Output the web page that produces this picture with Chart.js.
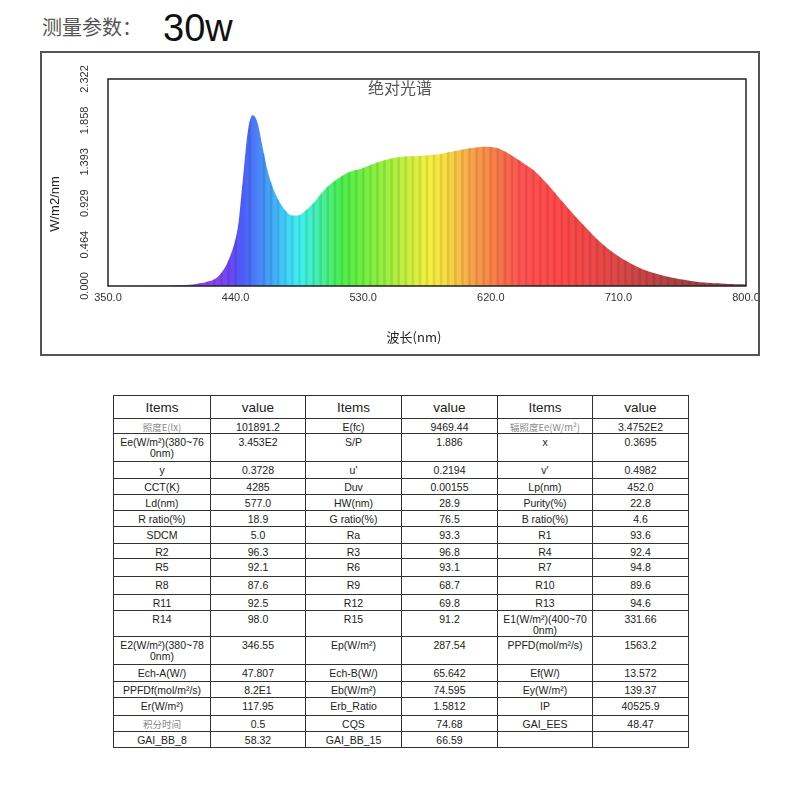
<!DOCTYPE html>
<html>
<head>
<meta charset="utf-8">
<script src="https://cdn.jsdelivr.net/npm/chart.js@4.4.0/dist/chart.umd.min.js"></script>
<style>
body{margin:0;background:#fff;width:800px;height:800px;position:relative;overflow:hidden;font-family:"Liberation Sans",Arial,sans-serif}
#lbl{position:absolute;left:42px;top:17px;font:20px/20px "Noto Sans CJK SC";color:#555}
#watt{position:absolute;left:163px;top:9px;font:38px/38px "Liberation Sans",Arial,sans-serif;color:#111}
#frame{position:absolute;left:40px;top:51px;width:720px;height:305px;box-sizing:border-box;border:2px solid #555}
#frame canvas{display:block}
table{position:absolute;left:113px;top:395px;border-collapse:collapse;table-layout:fixed;width:575px;font-size:10.5px;color:#222}
td{border:1px solid #333;padding:3px 1px 0;text-align:center;vertical-align:top;line-height:11px;white-space:pre-line;overflow:hidden}
tr.hd td{font-size:13.5px;vertical-align:middle;padding:0}
td.cn{font-family:"Noto Sans CJK SC";color:#888;font-size:9.5px}
</style>
</head>
<body>
<div id="lbl">测量参数：</div>
<div id="watt">30w</div>
<div id="frame"><canvas id="chart" width="716" height="301"></canvas></div>
<table id="tbl"></table>
<script>
// spectrum (nm, W/m2/nm)
const wavelengths = [350,355,360,365,370,375,380,385,390,395,400,405,410,415,420,425,430,435,
  440,442,444,446,448,450,452,454,456,458,460,462,465,470,475,480,485,490,495,500,505,510,515,
  520,525,530,535,540,545,550,555,560,565,570,575,580,585,590,595,600,605,610,615,620,625,630,
  635,640,645,650,655,660,665,670,675,680,685,690,695,700,705,710,715,720,725,730,735,740,745,
  750,755,760,765,770,775,780,785,790,795,800]
const irradiance = [0.000,0.000,0.000,0.000,0.001,0.001,0.002,0.003,0.004,0.006,0.008,0.012,0.018,0.030,0.048,0.075,0.150,0.290,
  0.530,0.700,1.010,1.340,1.660,1.850,1.915,1.890,1.800,1.640,1.480,1.330,1.160,0.970,0.850,0.790,0.795,0.855,0.930,1.030,1.115,1.180,1.235,
  1.275,1.300,1.325,1.355,1.385,1.410,1.430,1.445,1.452,1.455,1.458,1.465,1.472,1.482,1.500,1.515,1.530,1.545,1.555,1.562,1.560,1.545,1.510,
  1.462,1.410,1.355,1.300,1.225,1.140,1.050,0.955,0.865,0.775,0.690,0.605,0.525,0.455,0.390,0.335,0.285,0.240,0.203,0.172,0.145,0.122,0.103,
  0.087,0.072,0.060,0.048,0.040,0.035,0.030,0.026,0.023,0.020,0.018]

const xTicks = [350, 440, 530, 620, 710, 800]
const yTicks = [0.000, 0.464, 0.929, 1.393, 1.858, 2.322]

// colour of the fill along the wavelength axis
const specStops = [[350,'#a890e8'],[400,'#9444e8'],[425,'#8a42f0'],[437,'#6a48f8'],[445,'#4c5cf8'],
  [455,'#4a80f8'],[465,'#42a8f8'],[475,'#40d0f8'],[485,'#40f0f0'],[495,'#40f0c0'],[505,'#48f080'],
  [515,'#4cf04c'],[530,'#70f040'],[550,'#a8f040'],[565,'#d4f040'],[577,'#f4f040'],[588,'#f8dc44'],
  [598,'#f8c048'],[608,'#f8a048'],[618,'#f88a48'],[628,'#f87048'],[642,'#ff5252'],[670,'#ff4848'],
  [700,'#e84848'],[730,'#c44444'],[760,'#a44040'],[800,'#904040']]

const tableRows = [
  ['Items','value','Items','value','Items','value'],
  ['照度E(lx)','101891.2','E(fc)','9469.44','辐照度Ee(W/m²)','3.4752E2'],
  ['Ee(W/m²)(380~76\n0nm)','3.453E2','S/P','1.886','x','0.3695'],
  ['y','0.3728',"u'",'0.2194',"v'",'0.4982'],
  ['CCT(K)','4285','Duv','0.00155','Lp(nm)','452.0'],
  ['Ld(nm)','577.0','HW(nm)','28.9','Purity(%)','22.8'],
  ['R ratio(%)','18.9','G ratio(%)','76.5','B ratio(%)','4.6'],
  ['SDCM','5.0','Ra','93.3','R1','93.6'],
  ['R2','96.3','R3','96.8','R4','92.4'],
  ['R5','92.1','R6','93.1','R7','94.8'],
  ['R8','87.6','R9','68.7','R10','89.6'],
  ['R11','92.5','R12','69.8','R13','94.6'],
  ['R14','98.0','R15','91.2','E1(W/m²)(400~70\n0nm)','331.66'],
  ['E2(W/m²)(380~78\n0nm)','346.55','Ep(W/m²)','287.54','PPFD(mol/m²/s)','1563.2'],
  ['Ech-A(W/)','47.807','Ech-B(W/)','65.642','Ef(W/)','13.572'],
  ['PPFDf(mol/m²/s)','8.2E1','Eb(W/m²)','74.595','Ey(W/m²)','139.37'],
  ['Er(W/m²)','117.95','Erb_Ratio','1.5812','IP','40525.9'],
  ['积分时间','0.5','CQS','74.68','GAI_EES','48.47'],
  ['GAI_BB_8','58.32','GAI_BB_15','66.59','','']
]
const rowHeights = [23,14,28,17,16,16,16,17,15,18,18,16,26,28,17,16,18,16,16]
const colWidths = [97,95,96,96,95,96]

// build table
let tbl = document.getElementById('tbl')
let cg = document.createElement('colgroup')
colWidths.forEach(w => {
    let c = document.createElement('col')
    c.style.width = w + 'px'
    cg.appendChild(c)
})
tbl.appendChild(cg)
tableRows.forEach((row, i) => {
    let tr = document.createElement('tr')
    if (i === 0) tr.className = 'hd'
    tr.style.height = rowHeights[i] + 'px'
    row.forEach(txt => {
        let td = document.createElement('td')
        td.textContent = txt
        if (/[\u4e00-\u9fff]/.test(txt)) td.className = 'cn'
        tr.appendChild(td)
    })
    tbl.appendChild(tr)
})

// frame, tick labels and titles
const decor = {
    id: 'decor',
    afterDraw(chart) {
        const {ctx, chartArea: a, scales: {x, y}} = chart
        ctx.save()
        ctx.strokeStyle = '#222'
        ctx.lineWidth = 1.5
        ctx.strokeRect(a.left, a.top, a.right - a.left, a.bottom - a.top)

        ctx.fillStyle = '#333'
        ctx.font = '11px "Liberation Sans", Arial, sans-serif'
        ctx.textAlign = 'center'
        ctx.textBaseline = 'top'
        for (const v of xTicks) {
            ctx.fillText(v.toFixed(1), x.getPixelForValue(v), a.bottom + 6)
        }
        ctx.textBaseline = 'middle'
        for (const v of yTicks) {
            ctx.save()
            ctx.translate(a.left - 23, y.getPixelForValue(v))
            ctx.rotate(-Math.PI / 2)
            ctx.fillText(v.toFixed(3), 0, 0)
            ctx.restore()
        }

        ctx.fillStyle = '#222'
        ctx.font = '13px "Liberation Sans", Arial, sans-serif'
        ctx.save()
        ctx.translate(13, 151)
        ctx.rotate(-Math.PI / 2)
        ctx.fillText('W/m2/nm', 0, 0)
        ctx.restore()

        ctx.font = '13px "Noto Sans CJK SC", "Liberation Sans", sans-serif'
        ctx.fillText('波长(nm)', 372, 284)

        ctx.fillStyle = '#555'
        ctx.font = '16px "Noto Sans CJK SC", sans-serif'
        ctx.fillText('绝对光谱', 358, 35)
        ctx.restore()
    }
}

const points = wavelengths.map((w, i) => ({x: w, y: irradiance[i]}))
const stripes = points.filter(p => p.x % 5 === 0)

const myChart = new Chart(document.getElementById('chart'), {
    type: 'line',
    data: {
        datasets: [
            {
                type: 'bar',
                data: stripes,
                backgroundColor: 'rgba(0,0,0,0.09)',
                barThickness: 2,
                order: 0
            },
            {
                data: points,
                fill: 'origin',
                borderWidth: 0,
                borderColor: 'rgba(0,0,0,0)',
                pointRadius: 0,
                cubicInterpolationMode: 'monotone',
                order: 1,
                backgroundColor: (c) => {
                    const chart = c.chart
                    if (!chart.chartArea) return 'rgba(0,0,0,0)'
                    const xs = chart.scales.x
                    const g = chart.ctx.createLinearGradient(xs.getPixelForValue(350), 0, xs.getPixelForValue(800), 0)
                    specStops.forEach(([w, col]) => g.addColorStop((w - 350) / 450, col))
                    return g
                }
            }
        ]
    },
    options: {
        responsive: false,
        animation: false,
        layout: {padding: {left: 66, top: 26, right: 12, bottom: 68}},
        scales: {
            x: {type: 'linear', min: 350, max: 800, offset: false, display: false},
            y: {min: 0, max: 2.322, display: false}
        },
        plugins: {
            legend: {display: false},
            tooltip: {enabled: false}
        }
    },
    plugins: [decor]
})
</script>
</body>
</html>
